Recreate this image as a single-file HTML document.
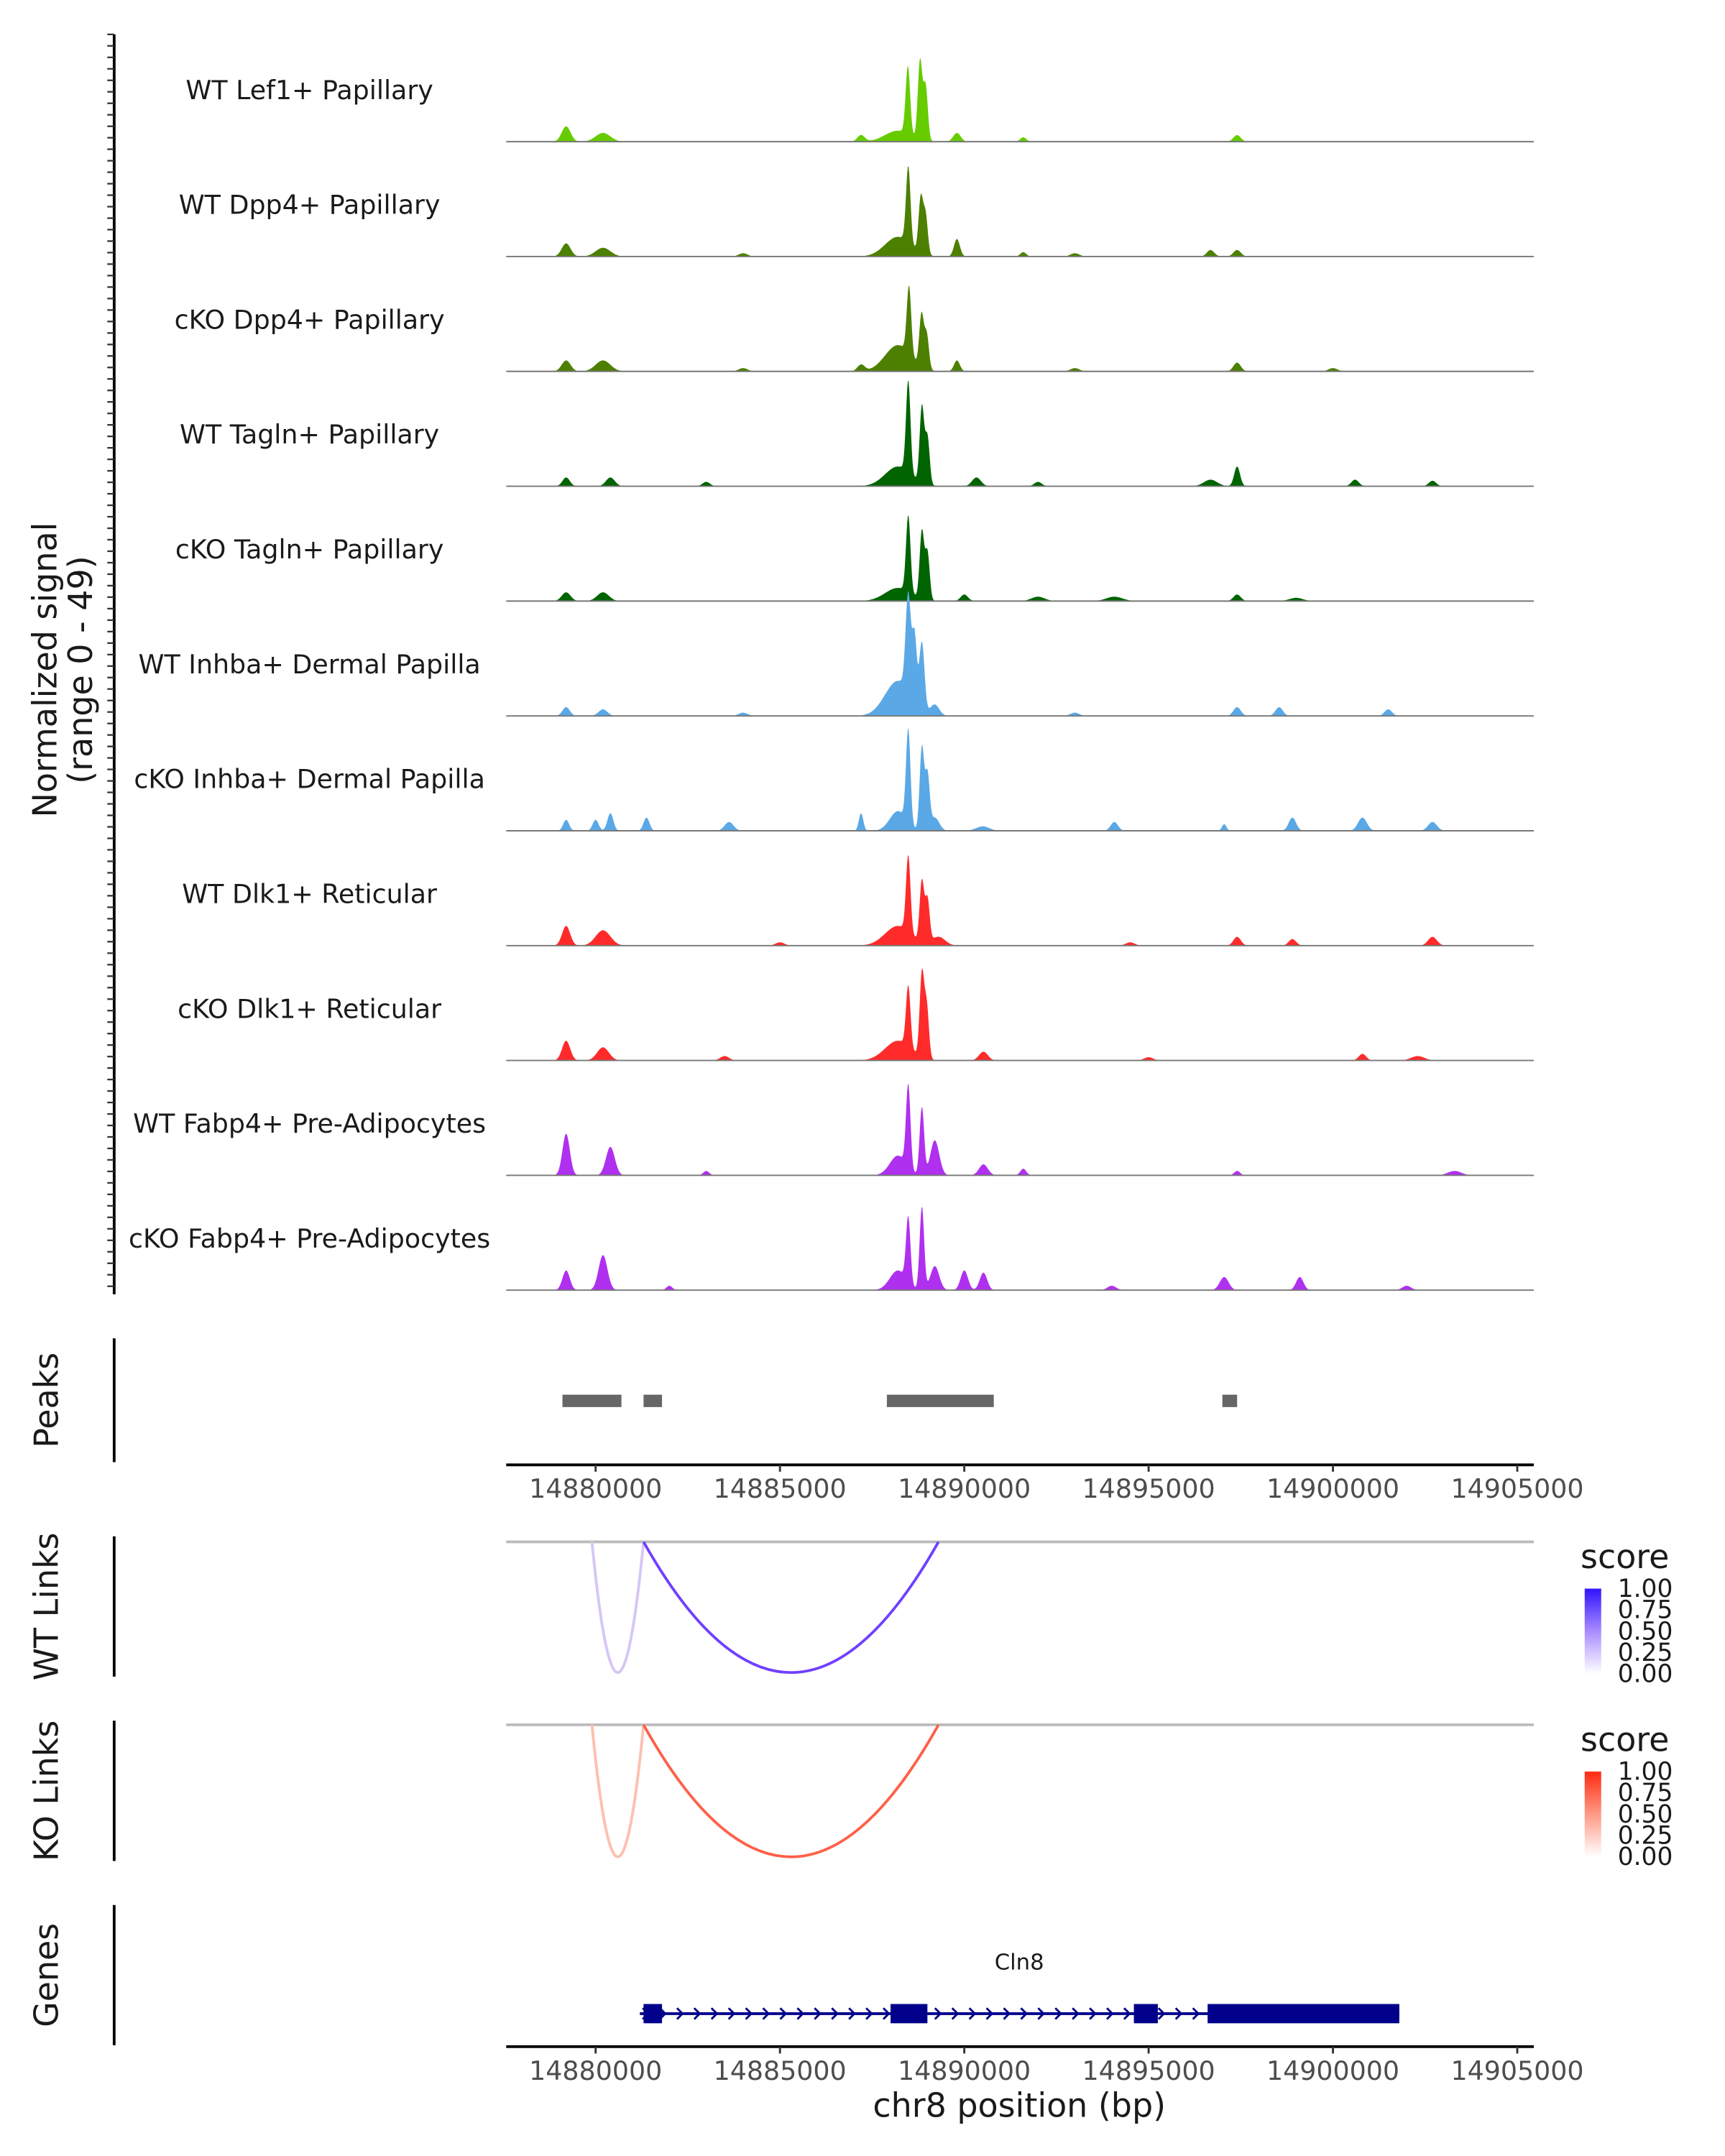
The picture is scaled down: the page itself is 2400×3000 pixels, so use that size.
<!DOCTYPE html>
<html><head><meta charset="utf-8"><style>
html,body{margin:0;padding:0;background:#fff;}
svg{display:block;font-family:"DejaVu Sans","Liberation Sans",sans-serif;}
</style></head><body>
<svg id="chart" width="2400" height="3000" viewBox="0 0 1254 1567.5" xmlns="http://www.w3.org/2000/svg">
<defs>
<linearGradient id="gWT" x1="0" y1="1" x2="0" y2="0"><stop offset="0" stop-color="#ffffff"/><stop offset="0.5" stop-color="#a98cff"/><stop offset="1" stop-color="#2f14ff"/></linearGradient>
<linearGradient id="gKO" x1="0" y1="1" x2="0" y2="0"><stop offset="0" stop-color="#ffffff"/><stop offset="0.5" stop-color="#ff9a86"/><stop offset="1" stop-color="#ff2a10"/></linearGradient>
</defs>
<g id="tracks"></g>
<g id="static"></g>
</svg>
<script>
const trackNames=["WT Lef1+ Papillary","WT Dpp4+ Papillary","cKO Dpp4+ Papillary","WT Tagln+ Papillary","cKO Tagln+ Papillary","WT Inhba+ Dermal Papilla","cKO Inhba+ Dermal Papilla","WT Dlk1+ Reticular","cKO Dlk1+ Reticular","WT Fabp4+ Pre-Adipocytes","cKO Fabp4+ Pre-Adipocytes"];
const trackColors=["#66cc00","#4d8000","#4d8000","#006400","#006400","#5aa8e6","#5aa8e6","#ff2a2a","#ff2a2a","#b030f0","#b030f0"];
// peaks: [position bp, signal (0-49), width bp]
const peaksLef1=[[14879200,7,120],[14880200,4,200],[14887200,3,100],[14888200,5,350],[14888470,31,60],[14888800,36,60],[14888950,25,60],[14889800,4,100],[14891600,2,80],[14897400,3,100]];
const peaksDpp4WT=[[14879200,6,120],[14880200,4,200],[14888200,9,350],[14888480,35,60],[14888820,25,60],[14888950,18,60],[14889800,8,80],[14896680,3,100],[14897400,3,100],[14891600,2,80],[14884000,1.5,120],[14893000,1.5,120]];
const peaksDpp4KO=[[14879200,5,120],[14880200,5,200],[14887200,3,100],[14888200,12,350],[14888500,31,60],[14888840,24,60],[14888980,16,60],[14889800,5,80],[14897400,4,100],[14884000,1.5,120],[14893000,1.5,120],[14900000,1.5,120]];
const peaksTaglnWT=[[14879200,4,100],[14880400,4,120],[14888200,9,350],[14888480,42,60],[14888850,35,60],[14889000,22,60],[14890330,4,120],[14896680,3,180],[14897400,9,80],[14900600,3,100],[14902700,2.5,100],[14883000,2,100],[14892000,2,100]];
const peaksTaglnKO=[[14879200,4,120],[14880200,4,160],[14888200,6,350],[14888480,35,60],[14888850,31,60],[14889000,22,60],[14890000,3,100],[14897400,3,100],[14894070,2,220],[14892000,2,180],[14899000,1.5,180]];
const peaksInhbaWT=[[14879200,4,100],[14880200,3,120],[14888200,16,350],[14888480,45,70],[14888650,30,60],[14888850,31,70],[14889200,5,120],[14897400,4,100],[14898540,4,100],[14901500,3,100],[14884000,1.5,120],[14893000,1.5,120]];
const peaksInhbaKO=[[14879200,5,80],[14880000,5,80],[14880400,8,80],[14881380,6,80],[14883620,4,120],[14887200,8,60],[14888200,9,220],[14888480,43,60],[14888850,38,60],[14889000,25,60],[14889200,6,120],[14890500,2,180],[14894070,4,100],[14898900,6,100],[14900800,6,120],[14902700,4,120],[14897050,3,60]];
const peaksDlk1WT=[[14879200,9,110],[14880200,7,200],[14888200,9,350],[14888480,35,60],[14888850,28,60],[14889000,20,60],[14889300,4,180],[14897400,4,100],[14898900,3,100],[14902700,4,120],[14885000,1.5,120],[14894500,1.5,120]];
const peaksDlk1KO=[[14879200,9,110],[14880200,6,160],[14888200,9,350],[14888480,28,60],[14888850,38,60],[14888980,24,60],[14890520,4,120],[14900800,3,100],[14883500,2,120],[14895000,1.5,120],[14902300,2,180]];
const peaksFabp4WT=[[14879200,19,100],[14880400,13,120],[14888200,9,220],[14888480,38,60],[14888850,31,60],[14889200,16,120],[14890520,5,120],[14891600,3,80],[14883000,2,80],[14897400,2,80],[14903300,2,180]];
const peaksFabp4KO=[[14879200,9,100],[14880200,16,120],[14888200,9,220],[14888480,30,60],[14888850,38,60],[14889200,11,120],[14890000,9,100],[14890520,8,100],[14897050,6,120],[14899100,6,100],[14882000,2,80],[14894000,2,120],[14902000,2,120]];
const trackPeaks=[peaksLef1,peaksDpp4WT,peaksDpp4KO,peaksTaglnWT,peaksTaglnKO,peaksInhbaWT,peaksInhbaKO,peaksDlk1WT,peaksDlk1KO,peaksFabp4WT,peaksFabp4KO];
const peakRegions=[[14879100,14880700],[14881300,14881800],[14887900,14890800],[14897000,14897400]];
const xTicks=[14880000,14885000,14890000,14895000,14900000,14905000];
const wtLinks=[[14879900,14881300,0.35],[14881300,14889300,0.85]];
const koLinks=[[14879900,14881300,0.35],[14881300,14889300,0.85]];
const exons=[[14881300,14881800],[14888000,14889000],[14894600,14895250],[14896600,14901800]];
const geneStart=14881200, geneEnd=14901800;
const legendTicks=["1.00","0.75","0.50","0.25","0.00"];

const NS="http://www.w3.org/2000/svg";
const X0=368,X1=1115;
function xs(p){return 433+(p-14880000)*0.0268;}
function ys(v,base){return base-v*(78/49);}
function mk(tag,attrs,parent,text){const e=document.createElementNS(NS,tag);for(const k in attrs)e.setAttribute(k,attrs[k]);if(text!==undefined)e.textContent=text;parent.appendChild(e);return e;}
const T=document.getElementById('tracks');
const S=document.getElementById('static');
const baseY0=103, gap=83.5;
trackPeaks.forEach((pk,i)=>{
  const base=baseY0+i*gap;
  let d="M"+X0+","+base;
  for(let x=X0;x<=X1;x+=0.5){
    let v=0;
    pk.forEach(p=>{const dx=(x-xs(p[0]))/(p[2]*0.0268);v+=p[1]*Math.exp(-0.5*dx*dx);});
    d+=" L"+x+","+ys(v,base).toFixed(2);
  }
  d+=" L"+X1+","+base+" Z";
  const a=mk('path',{d:d,fill:trackColors[i]},T);
  
  
  const l=mk('line',{x1:X0,x2:X1,y1:base,y2:base,stroke:'#777','stroke-width':1},T);
  
  
  const t=mk('text',{x:225,y:base-31,'text-anchor':'middle','font-size':19,fill:'#1a1a1a'},T,trackNames[i]);
  
  
});
const ya=mk('line',{x1:83,x2:83,y1:25,y2:941,stroke:'#000','stroke-width':2},S);


for(let y=25;y<=941;y+=8.35){mk('line',{x1:78,x2:83,y1:y,y2:y,stroke:'#333','stroke-width':1.2},S);}
const yl=mk('text',{transform:'translate(41,487) rotate(-90)','text-anchor':'middle','font-size':24,fill:'#1a1a1a'},S);


mk('tspan',{x:0,dy:0},yl,'Normalized signal');
mk('tspan',{x:0,dy:26},yl,'(range 0 - 49)');
[[973,1063,'Peaks',1018,'peaks-axis'],[1117,1219,'WT Links',1168,'wt-links-axis'],[1251,1353,'KO Links',1302,'ko-links-axis'],[1385,1487,'Genes',1436,'genes-axis']].forEach(p=>{
  const l=mk('line',{x1:83,x2:83,y1:p[0],y2:p[1],stroke:'#000','stroke-width':2},S);
  
  
  const t=mk('text',{transform:'translate(42,'+p[3]+') rotate(-90)','text-anchor':'middle','font-size':24,fill:'#1a1a1a'},S,p[2]);
  
  
});
peakRegions.forEach(r=>{
  const e=mk('rect',{x:xs(r[0]),y:1014,width:xs(r[1])-xs(r[0]),height:9,fill:'#666'},S);
  
  
});
function xaxis(y,name){
  const l=mk('line',{x1:X0,x2:X1,y1:y,y2:y,stroke:'#000','stroke-width':2},S);
  
  
  xTicks.forEach(v=>{
    mk('line',{x1:xs(v),x2:xs(v),y1:y,y2:y+5,stroke:'#333','stroke-width':1.5},S);
    const t=mk('text',{x:xs(v),y:y+24,'text-anchor':'middle','font-size':19,fill:'#4d4d4d'},S,String(v));
    
    
  });
}
xaxis(1065,'peaks-x-axis');
xaxis(1488,'genes-x-axis');
const xt=mk('text',{x:741,y:1539,'text-anchor':'middle','font-size':24,fill:'#1a1a1a'},S,'chr8 position (bp)');


function links(arr,top,bottom,lo,hi,name,grad){
  const b=mk('line',{x1:X0,x2:X1,y1:top,y2:top,stroke:'#bbb','stroke-width':2},S);
  
  
  arr.forEach(l=>{
    const a=xs(l[0]),c=xs(l[1]),m=(a+c)/2;
    const col=l[2]>0.5?hi:lo;
    const p=mk('path',{d:`M${a},${top} Q${m},${2*bottom-top} ${c},${top}`,fill:'none',stroke:col,'stroke-width':2},S);
    
    
  });
  const lt=mk('text',{x:1149,y:top+19,'font-size':24,fill:'#1a1a1a'},S,'score');
  
  
  const r=mk('rect',{x:1152,y:top+34,width:12,height:62,fill:'url(#'+grad+')'},S);
  
  
  legendTicks.forEach((s,i)=>{
    const t=mk('text',{x:1176,y:top+40+i*15.5,'font-size':18,fill:'#1a1a1a'},S,s);
    
    
  });
}
links(wtLinks,1121,1216,'#d6c6f6','#7040ff','wt-links','gWT');
links(koLinks,1254,1350,'#fcc0b0','#ff6048','ko-links','gKO');
const gn=mk('text',{x:741,y:1432,'text-anchor':'middle','font-size':16,fill:'#1a1a1a'},S,'Cln8');


const gl=mk('line',{x1:xs(geneStart),x2:xs(geneEnd),y1:1464,y2:1464,stroke:'#00008b','stroke-width':2},S);


for(let x=xs(geneStart)+5;x<xs(geneEnd);x+=12.5){mk('path',{d:`M${x-3},${1460} L${x+1},${1464} L${x-3},${1468}`,fill:'none',stroke:'#00008b','stroke-width':1.5},S);}
exons.forEach(e=>{
  const r=mk('rect',{x:xs(e[0]),y:1457,width:xs(e[1])-xs(e[0]),height:14,fill:'#00008b'},S);
  
  
});
</script>
</body></html>
